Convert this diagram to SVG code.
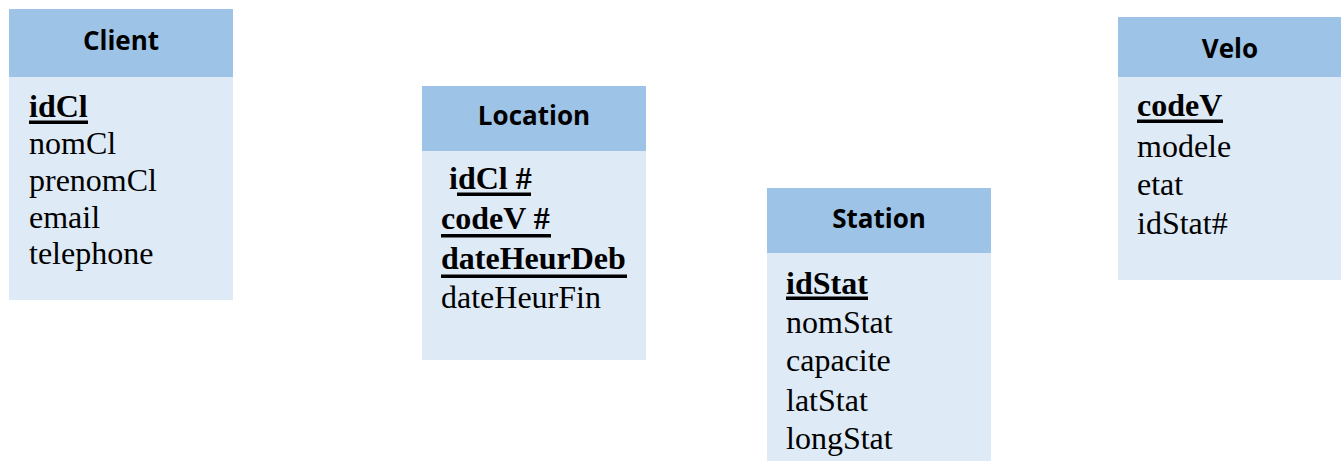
<svg xmlns="http://www.w3.org/2000/svg" width="1341" height="461" viewBox="0 0 1341 461">
<style>
.hdr{fill:#9DC3E6}
.body{fill:#DEEAF6}
.title{font-family:"Open Sans","Liberation Sans",sans-serif;font-weight:700;font-size:26px;fill:#000;text-anchor:middle}
.attr{font-family:"Liberation Serif","Times New Roman",serif;font-size:32px;fill:#000}
.key{font-weight:700}
.ul{fill:#000}
</style>
<rect width="1341" height="461" fill="#fff"/>
<g id="client">
<rect class="body" x="9" y="9" width="224" height="291"/>
<rect class="hdr" x="9" y="9" width="224" height="68"/>
<text class="title" x="121" y="50">Client</text>
<text class="attr key" x="29" y="117">idCl</text>
<rect class="ul" x="29" y="120.5" width="59" height="3.5"/>
<text class="attr" x="29" y="154">nomCl</text>
<text class="attr" x="29" y="191">prenomCl</text>
<text class="attr" x="29" y="228">email</text>
<text class="attr" x="29" y="264">telephone</text>
</g>
<g id="location">
<rect class="body" x="422" y="86" width="224" height="274"/>
<rect class="hdr" x="422" y="86" width="224" height="65"/>
<text class="title" x="534" y="125">Location</text>
<text class="attr key" x="449" y="189">idCl #</text>
<rect class="ul" x="457" y="192.5" width="74" height="3.5"/>
<text class="attr key" x="441" y="229">codeV #</text>
<rect class="ul" x="441" y="234" width="110" height="3.5"/>
<text class="attr key" x="441" y="269">dateHeurDeb</text>
<rect class="ul" x="441" y="274.5" width="186" height="3.5"/>
<text class="attr" x="441" y="308">dateHeurFin</text>
</g>
<g id="station">
<rect class="body" x="767" y="188" width="224" height="273"/>
<rect class="hdr" x="767" y="188" width="224" height="65"/>
<text class="title" x="879" y="228">Station</text>
<text class="attr key" x="786" y="294">idStat</text>
<rect class="ul" x="786" y="296.5" width="82" height="3.5"/>
<text class="attr" x="786" y="333">nomStat</text>
<text class="attr" x="786" y="371">capacite</text>
<text class="attr" x="786" y="411">latStat</text>
<text class="attr" x="786" y="449">longStat</text>
</g>
<g id="velo">
<rect class="body" x="1118" y="17" width="224" height="263"/>
<rect class="hdr" x="1118" y="17" width="224" height="60"/>
<text class="title" x="1230" y="58">Velo</text>
<text class="attr key" x="1137" y="116">codeV</text>
<rect class="ul" x="1137" y="119.5" width="86" height="3.5"/>
<text class="attr" x="1137" y="157">modele</text>
<text class="attr" x="1137" y="195">etat</text>
<text class="attr" x="1137" y="234">idStat#</text>
</g>
<g id="connectors"></g>
</svg>
